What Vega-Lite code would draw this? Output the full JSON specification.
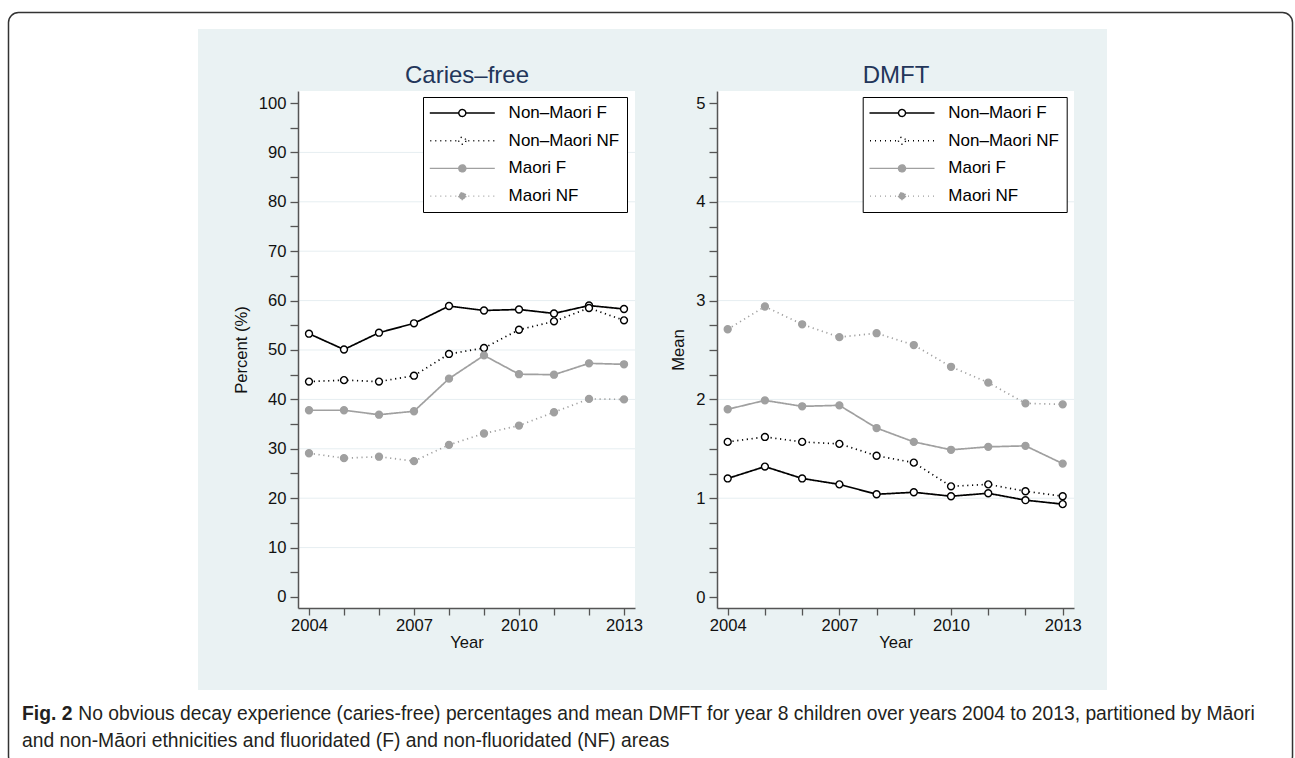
{
  "$schema": "https://vega.github.io/schema/vega-lite/v6.json",
  "width": 909,
  "height": 661,
  "autosize": {"type": "none"},
  "padding": {"left": 198, "top": 29, "right": 188, "bottom": 68},
  "background": "#ffffff",
  "config": {
    "view": {"fill": "#eaf2f3", "stroke": null},
    "font": "Liberation Sans",
    "axis": {
      "domainColor": "#555555", "domainWidth": 1.5,
      "tickColor": "#555555", "tickWidth": 1.3,
      "labelColor": "#111111", "labelFontSize": 16.6, "labelFont": "Liberation Sans",
      "titleColor": "#111111", "titleFontSize": 16.6, "titleFont": "Liberation Sans", "titleFontWeight": "normal",
      "grid": false, "labelFlush": false, "labelOverlap": false, "labelBound": false
    }
  },
  "title": {
    "text": "Fig. 2",
    "subtitle": "and non-Māori ethnicities and fluoridated (F) and non-fluoridated (NF) areas",
    "orient": "bottom", "anchor": "start", "frame": "group",
    "dx": -176, "offset": -62,
    "font": "Liberation Sans", "fontSize": 19.3, "fontWeight": "bold", "color": "#231f20", "baseline": "top",
    "subtitleFont": "Liberation Sans", "subtitleFontSize": 19.3, "subtitleFontWeight": "normal", "subtitleColor": "#231f20",
    "subtitlePadding": 7.7
  },
  "datasets": {
    "cf": [
      {"year": 2004, "series": "Non–Maori F", "value": 53.3}, {"year": 2005, "series": "Non–Maori F", "value": 50.1},
      {"year": 2006, "series": "Non–Maori F", "value": 53.5}, {"year": 2007, "series": "Non–Maori F", "value": 55.4},
      {"year": 2008, "series": "Non–Maori F", "value": 58.9}, {"year": 2009, "series": "Non–Maori F", "value": 58.0},
      {"year": 2010, "series": "Non–Maori F", "value": 58.2}, {"year": 2011, "series": "Non–Maori F", "value": 57.4},
      {"year": 2012, "series": "Non–Maori F", "value": 59.0}, {"year": 2013, "series": "Non–Maori F", "value": 58.3},
      {"year": 2004, "series": "Non–Maori NF", "value": 43.6}, {"year": 2005, "series": "Non–Maori NF", "value": 43.9},
      {"year": 2006, "series": "Non–Maori NF", "value": 43.6}, {"year": 2007, "series": "Non–Maori NF", "value": 44.8},
      {"year": 2008, "series": "Non–Maori NF", "value": 49.2}, {"year": 2009, "series": "Non–Maori NF", "value": 50.4},
      {"year": 2010, "series": "Non–Maori NF", "value": 54.1}, {"year": 2011, "series": "Non–Maori NF", "value": 55.8},
      {"year": 2012, "series": "Non–Maori NF", "value": 58.5}, {"year": 2013, "series": "Non–Maori NF", "value": 56.0},
      {"year": 2004, "series": "Maori F", "value": 37.8}, {"year": 2005, "series": "Maori F", "value": 37.8},
      {"year": 2006, "series": "Maori F", "value": 36.9}, {"year": 2007, "series": "Maori F", "value": 37.6},
      {"year": 2008, "series": "Maori F", "value": 44.2}, {"year": 2009, "series": "Maori F", "value": 48.9},
      {"year": 2010, "series": "Maori F", "value": 45.1}, {"year": 2011, "series": "Maori F", "value": 45.0},
      {"year": 2012, "series": "Maori F", "value": 47.3}, {"year": 2013, "series": "Maori F", "value": 47.1},
      {"year": 2004, "series": "Maori NF", "value": 29.1}, {"year": 2005, "series": "Maori NF", "value": 28.1},
      {"year": 2006, "series": "Maori NF", "value": 28.4}, {"year": 2007, "series": "Maori NF", "value": 27.5},
      {"year": 2008, "series": "Maori NF", "value": 30.8}, {"year": 2009, "series": "Maori NF", "value": 33.1},
      {"year": 2010, "series": "Maori NF", "value": 34.7}, {"year": 2011, "series": "Maori NF", "value": 37.4},
      {"year": 2012, "series": "Maori NF", "value": 40.1}, {"year": 2013, "series": "Maori NF", "value": 40.0}
    ],
    "dm": [
      {"year": 2004, "series": "Non–Maori F", "value": 1.20}, {"year": 2005, "series": "Non–Maori F", "value": 1.32},
      {"year": 2006, "series": "Non–Maori F", "value": 1.20}, {"year": 2007, "series": "Non–Maori F", "value": 1.14},
      {"year": 2008, "series": "Non–Maori F", "value": 1.04}, {"year": 2009, "series": "Non–Maori F", "value": 1.06},
      {"year": 2010, "series": "Non–Maori F", "value": 1.02}, {"year": 2011, "series": "Non–Maori F", "value": 1.05},
      {"year": 2012, "series": "Non–Maori F", "value": 0.98}, {"year": 2013, "series": "Non–Maori F", "value": 0.94},
      {"year": 2004, "series": "Non–Maori NF", "value": 1.57}, {"year": 2005, "series": "Non–Maori NF", "value": 1.62},
      {"year": 2006, "series": "Non–Maori NF", "value": 1.57}, {"year": 2007, "series": "Non–Maori NF", "value": 1.55},
      {"year": 2008, "series": "Non–Maori NF", "value": 1.43}, {"year": 2009, "series": "Non–Maori NF", "value": 1.36},
      {"year": 2010, "series": "Non–Maori NF", "value": 1.12}, {"year": 2011, "series": "Non–Maori NF", "value": 1.14},
      {"year": 2012, "series": "Non–Maori NF", "value": 1.07}, {"year": 2013, "series": "Non–Maori NF", "value": 1.02},
      {"year": 2004, "series": "Maori F", "value": 1.90}, {"year": 2005, "series": "Maori F", "value": 1.99},
      {"year": 2006, "series": "Maori F", "value": 1.93}, {"year": 2007, "series": "Maori F", "value": 1.94},
      {"year": 2008, "series": "Maori F", "value": 1.71}, {"year": 2009, "series": "Maori F", "value": 1.57},
      {"year": 2010, "series": "Maori F", "value": 1.49}, {"year": 2011, "series": "Maori F", "value": 1.52},
      {"year": 2012, "series": "Maori F", "value": 1.53}, {"year": 2013, "series": "Maori F", "value": 1.35},
      {"year": 2004, "series": "Maori NF", "value": 2.71}, {"year": 2005, "series": "Maori NF", "value": 2.94},
      {"year": 2006, "series": "Maori NF", "value": 2.76}, {"year": 2007, "series": "Maori NF", "value": 2.63},
      {"year": 2008, "series": "Maori NF", "value": 2.67}, {"year": 2009, "series": "Maori NF", "value": 2.55},
      {"year": 2010, "series": "Maori NF", "value": 2.33}, {"year": 2011, "series": "Maori NF", "value": 2.17},
      {"year": 2012, "series": "Maori NF", "value": 1.96}, {"year": 2013, "series": "Maori NF", "value": 1.95}
    ],
    "gcf": [{"v": 10}, {"v": 20}, {"v": 30}, {"v": 40}, {"v": 50}, {"v": 60}, {"v": 70}, {"v": 80}, {"v": 90}],
    "gdm": [{"v": 1}, {"v": 2}, {"v": 3}, {"v": 4}],
    "one": [{"part": "area"}]
  },
  "layer": [
    {
      "layer": [
        {
          "data": {"name": "one"},
          "mark": {"type": "rect", "fill": "#ffffff"},
          "encoding": {
            "x": {"datum": 2003.686, "type": "quantitative", "scale": {"domain": [2003.686, 2013.314], "range": [100, 437], "nice": false, "zero": false}, "axis": null},
            "x2": {"datum": 2013.314},
            "y": {"datum": -2.23, "type": "quantitative", "scale": {"domain": [-2.23, 102.43], "range": [579, 62], "nice": false, "zero": false}, "axis": null},
            "y2": {"datum": 102.43}
          }
        },
        {
          "data": {"name": "gcf"},
          "mark": {"type": "rule", "color": "#e6eef1", "strokeWidth": 1},
          "encoding": {
            "y": {"field": "v", "type": "quantitative", "scale": {"domain": [-2.23, 102.43], "range": [579, 62], "nice": false, "zero": false}, "axis": null},
            "x": {"datum": 2003.686, "type": "quantitative", "scale": {"domain": [2003.686, 2013.314], "range": [100, 437], "nice": false, "zero": false},
              "axis": {"orient": "bottom", "offset": 0, "domain": false, "ticks": false, "labels": false, "grid": false,
                "title": "No obvious decay experience (caries-free) percentages and mean DMFT for year 8 children over years 2004 to 2013, partitioned by Māori",
                "titleX": -120.2, "titleY": 29.8, "titleAlign": "left", "titleBaseline": "alphabetic", "titleAngle": 0,
                "titleFont": "Liberation Sans", "titleFontSize": 19.3, "titleFontWeight": "normal", "titleColor": "#231f20", "titleLimit": 3000, "zindex": 1}},
            "x2": {"datum": 2013.314}
          }
        },
        {
          "data": {"name": "cf"},
          "mark": {"type": "line", "strokeWidth": 1.7},
          "encoding": {
            "x": {"field": "year", "type": "quantitative", "scale": {"domain": [2003.686, 2013.314], "range": [100, 437], "nice": false, "zero": false},
              "axis": {"orient": "bottom", "offset": -82, "values": [2004, 2005, 2006, 2007, 2008, 2009, 2010, 2011, 2012, 2013], "format": "d", "labelExpr": "datum.value % 3 == 0 ? datum.label : ''", "tickSize": 7, "labelPadding": 2, "title": "Year", "titlePadding": 1, "zindex": 1}},
            "y": {"field": "value", "type": "quantitative", "scale": {"domain": [-2.23, 102.43], "range": [579, 62], "nice": false, "zero": false},
              "axis": {"orient": "left", "offset": -100, "values": [0, 5, 10, 15, 20, 25, 30, 35, 40, 45, 50, 55, 60, 65, 70, 75, 80, 85, 90, 95, 100], "format": "d", "labelExpr": "datum.value % 10 == 0 ? datum.label : ''", "tickSize": 8, "labelPadding": 4, "title": "Percent (%)", "titlePadding": 9, "minExtent": 0, "zindex": 1}},
            "color": {"field": "series", "type": "nominal",
              "scale": {"domain": ["Non–Maori F", "Non–Maori NF", "Maori F", "Maori NF"], "range": ["#000000", "#000000", "#a0a0a0", "#a0a0a0"]},
              "legend": {"orient": "none", "legendX": 225, "legendY": 68, "title": null, "padding": 7.5, "strokeColor": "#000000", "fillColor": "#ffffff", "cornerRadius": 0, "rowPadding": 9.7, "labelFontSize": 17, "labelFont": "Liberation Sans", "labelColor": "#000000", "symbolSize": 100, "symbolOffset": 23.3, "labelOffset": 37.8, "symbolStrokeWidth": 1.4,
                "encode": {"symbols": {"update": {
                  "shape": {"signal": "indexof(datum.value,'NF')>=0 ? 'M-6.4,0L-6.2,0M-5.4,0L-5.2,0M-4.4,0L-4.2,0M-3.4,0L-3.2,0M-2.4,0L-2.2,0M-1.4,0L-1.2,0M1.2,0L1.4,0M2.2,0L2.4,0M3.2,0L3.4,0M4.2,0L4.4,0M5.2,0L5.4,0M6.2,0L6.4,0M0.7,0C0.7,0.3866,0.3866,0.7,0,0.7C-0.3866,0.7,-0.7,0.3866,-0.7,0C-0.7,-0.3866,-0.3866,-0.7,0,-0.7C0.3866,-0.7,0.7,-0.3866,0.7,0Z' : 'M-6.5,0L-0.7,0M0.7,0L6.5,0M0.7,0C0.7,0.3866,0.3866,0.7,0,0.7C-0.3866,0.7,-0.7,0.3866,-0.7,0C-0.7,-0.3866,-0.3866,-0.7,0,-0.7C0.3866,-0.7,0.7,-0.3866,0.7,0Z'"},
                  "fill": {"signal": "indexof(datum.value,'Non')>=0 ? 'transparent' : '#a0a0a0'"},
                  "stroke": {"signal": "indexof(datum.value,'Non')>=0 ? '#000000' : '#a0a0a0'"},
                  "strokeWidth": {"value": 1.4},
                  "opacity": {"value": 1}
                }}}}},
            "strokeDash": {"field": "series", "type": "nominal",
              "scale": {"domain": ["Non–Maori F", "Non–Maori NF", "Maori F", "Maori NF"], "range": [[1, 0], [1.2, 3.6], [1, 0], [1.2, 3.6]]}, "legend": null}
          }
        },
        {
          "data": {"name": "cf"},
          "mark": {"type": "point", "shape": "circle", "size": 48, "strokeWidth": 1.4, "opacity": 1},
          "encoding": {
            "x": {"field": "year", "type": "quantitative", "scale": {"domain": [2003.686, 2013.314], "range": [100, 437], "nice": false, "zero": false},
              "axis": {"orient": "top", "offset": -62, "domain": false, "ticks": false, "labels": false, "title": "Caries–free", "titleFontSize": 24, "titleColor": "#23365a", "titleFontWeight": "normal", "titlePadding": 9, "titleBaseline": "alphabetic", "zindex": 1}},
            "y": {"field": "value", "type": "quantitative", "scale": {"domain": [-2.23, 102.43], "range": [579, 62], "nice": false, "zero": false}, "axis": null},
            "fill": {"field": "series", "type": "nominal", "scale": {"domain": ["Non–Maori F", "Non–Maori NF", "Maori F", "Maori NF"], "range": ["#ffffff", "#ffffff", "#a0a0a0", "#a0a0a0"]}, "legend": null},
            "stroke": {"field": "series", "type": "nominal", "scale": {"domain": ["Non–Maori F", "Non–Maori NF", "Maori F", "Maori NF"], "range": ["#000000", "#000000", "#a0a0a0", "#a0a0a0"]}, "legend": null}
          }
        },
        {
          "data": {"name": "one"},
          "mark": {"type": "rect", "fill": null, "stroke": "#333333", "strokeWidth": 1.5, "cornerRadius": 10},
          "encoding": {
            "x": {"datum": 1995.415, "type": "quantitative", "scale": {"domain": [2003.686, 2013.314], "range": [100, 437], "nice": false, "zero": false}, "axis": null},
            "x2": {"datum": 2032.099},
            "y": {"datum": 118.32, "type": "quantitative", "scale": {"domain": [-2.23, 102.43], "range": [579, 62], "nice": false, "zero": false}, "axis": null},
            "y2": {"datum": -34.22}
          }
        }
      ],
      "resolve": {"axis": {"x": "independent", "y": "independent"}}
    },
    {
      "layer": [
        {
          "data": {"name": "one"},
          "mark": {"type": "rect", "fill": "#ffffff"},
          "encoding": {
            "x": {"datum": 2003.7125, "type": "quantitative", "scale": {"domain": [2003.7125, 2013.304], "range": [519, 876], "nice": false, "zero": false}, "axis": null},
            "x2": {"datum": 2013.304},
            "y": {"datum": -0.1113, "type": "quantitative", "scale": {"domain": [-0.1113, 5.1215], "range": [579, 62], "nice": false, "zero": false}, "axis": null},
            "y2": {"datum": 5.1215}
          }
        },
        {
          "data": {"name": "gdm"},
          "mark": {"type": "rule", "color": "#e6eef1", "strokeWidth": 1},
          "encoding": {
            "y": {"field": "v", "type": "quantitative", "scale": {"domain": [-0.1113, 5.1215], "range": [579, 62], "nice": false, "zero": false}, "axis": null},
            "x": {"datum": 2003.7125, "type": "quantitative", "scale": {"domain": [2003.7125, 2013.304], "range": [519, 876], "nice": false, "zero": false}, "axis": null},
            "x2": {"datum": 2013.304}
          }
        },
        {
          "data": {"name": "dm"},
          "mark": {"type": "line", "strokeWidth": 1.7},
          "encoding": {
            "x": {"field": "year", "type": "quantitative", "scale": {"domain": [2003.7125, 2013.304], "range": [519, 876], "nice": false, "zero": false},
              "axis": {"orient": "bottom", "offset": -82, "values": [2004, 2005, 2006, 2007, 2008, 2009, 2010, 2011, 2012, 2013], "format": "d", "labelExpr": "datum.value % 3 == 0 ? datum.label : ''", "tickSize": 7, "labelPadding": 2, "title": "Year", "titlePadding": 1, "zindex": 1}},
            "y": {"field": "value", "type": "quantitative", "scale": {"domain": [-0.1113, 5.1215], "range": [579, 62], "nice": false, "zero": false},
              "axis": {"orient": "left", "offset": -519, "values": [0, 0.25, 0.5, 0.75, 1, 1.25, 1.5, 1.75, 2, 2.25, 2.5, 2.75, 3, 3.25, 3.5, 3.75, 4, 4.25, 4.5, 4.75, 5], "labelExpr": "datum.value % 1 == 0 ? format(datum.value, 'd') : ''", "tickSize": 8, "labelPadding": 4, "title": "Mean", "titlePadding": 9, "minExtent": 0, "zindex": 1}},
            "color": {"field": "series", "type": "nominal",
              "scale": {"domain": ["Non–Maori F", "Non–Maori NF", "Maori F", "Maori NF"], "range": ["#000000", "#000000", "#a0a0a0", "#a0a0a0"]},
              "legend": {"orient": "none", "legendX": 664.7, "legendY": 68, "title": null, "padding": 7.5, "strokeColor": "#000000", "fillColor": "#ffffff", "cornerRadius": 0, "rowPadding": 9.7, "labelFontSize": 17, "labelFont": "Liberation Sans", "labelColor": "#000000", "symbolSize": 100, "symbolOffset": 23.3, "labelOffset": 37.8, "symbolStrokeWidth": 1.4,
                "encode": {"symbols": {"update": {
                  "shape": {"signal": "indexof(datum.value,'NF')>=0 ? 'M-6.4,0L-6.2,0M-5.4,0L-5.2,0M-4.4,0L-4.2,0M-3.4,0L-3.2,0M-2.4,0L-2.2,0M-1.4,0L-1.2,0M1.2,0L1.4,0M2.2,0L2.4,0M3.2,0L3.4,0M4.2,0L4.4,0M5.2,0L5.4,0M6.2,0L6.4,0M0.7,0C0.7,0.3866,0.3866,0.7,0,0.7C-0.3866,0.7,-0.7,0.3866,-0.7,0C-0.7,-0.3866,-0.3866,-0.7,0,-0.7C0.3866,-0.7,0.7,-0.3866,0.7,0Z' : 'M-6.5,0L-0.7,0M0.7,0L6.5,0M0.7,0C0.7,0.3866,0.3866,0.7,0,0.7C-0.3866,0.7,-0.7,0.3866,-0.7,0C-0.7,-0.3866,-0.3866,-0.7,0,-0.7C0.3866,-0.7,0.7,-0.3866,0.7,0Z'"},
                  "fill": {"signal": "indexof(datum.value,'Non')>=0 ? 'transparent' : '#a0a0a0'"},
                  "stroke": {"signal": "indexof(datum.value,'Non')>=0 ? '#000000' : '#a0a0a0'"},
                  "strokeWidth": {"value": 1.4},
                  "opacity": {"value": 1}
                }}}}},
            "strokeDash": {"field": "series", "type": "nominal",
              "scale": {"domain": ["Non–Maori F", "Non–Maori NF", "Maori F", "Maori NF"], "range": [[1, 0], [1.2, 3.6], [1, 0], [1.2, 3.6]]}, "legend": null}
          }
        },
        {
          "data": {"name": "dm"},
          "mark": {"type": "point", "shape": "circle", "size": 48, "strokeWidth": 1.4, "opacity": 1},
          "encoding": {
            "x": {"field": "year", "type": "quantitative", "scale": {"domain": [2003.7125, 2013.304], "range": [519, 876], "nice": false, "zero": false},
              "axis": {"orient": "top", "offset": -62, "domain": false, "ticks": false, "labels": false, "title": "DMFT", "titleFontSize": 24, "titleColor": "#23365a", "titleFontWeight": "normal", "titlePadding": 9, "titleBaseline": "alphabetic", "zindex": 1}},
            "y": {"field": "value", "type": "quantitative", "scale": {"domain": [-0.1113, 5.1215], "range": [579, 62], "nice": false, "zero": false}, "axis": null},
            "fill": {"field": "series", "type": "nominal", "scale": {"domain": ["Non–Maori F", "Non–Maori NF", "Maori F", "Maori NF"], "range": ["#ffffff", "#ffffff", "#a0a0a0", "#a0a0a0"]}, "legend": null},
            "stroke": {"field": "series", "type": "nominal", "scale": {"domain": ["Non–Maori F", "Non–Maori NF", "Maori F", "Maori NF"], "range": ["#000000", "#000000", "#a0a0a0", "#a0a0a0"]}, "legend": null}
          }
        }
      ],
      "resolve": {"axis": {"x": "independent", "y": "independent"}}
    }
  ],
  "resolve": {"scale": {"x": "independent", "y": "independent", "color": "independent", "fill": "independent", "stroke": "independent", "strokeDash": "independent"}}
}
